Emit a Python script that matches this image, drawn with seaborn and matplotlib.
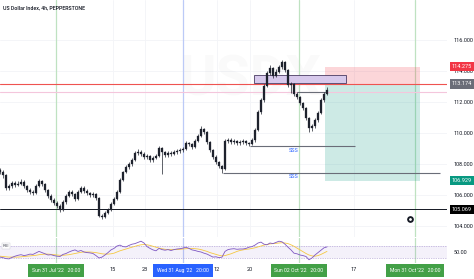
import matplotlib
matplotlib.use("Agg")
import matplotlib.pyplot as plt
import matplotlib.transforms as mtransforms
from matplotlib.patches import Rectangle
import numpy as np
import pandas as pd
import seaborn as sns

# ---------------- data ----------------
title = "US Dollar Index, 4h, PEPPERSTONE"

opens = [107.60, 107.48, 107.29, 106.45, 106.58, 106.77, 106.65, 106.71, 106.84, 106.58,
         106.32, 106.19, 106.13, 106.58, 106.90, 106.71, 106.32, 105.94, 105.68, 105.48,
         105.29, 105.03, 105.55, 105.94, 106.19, 106.06, 105.74, 106.19, 106.45, 106.26,
         106.13, 106.00, 106.06, 105.81, 104.65, 104.58, 104.84, 105.03, 105.42, 105.74,
         106.19, 106.97, 107.48, 107.81, 108.00, 108.26, 108.71, 108.77, 108.65, 108.45,
         108.52, 108.26, 108.39, 108.52, 109.03, 108.77, 108.58, 108.71, 108.65, 108.77,
         108.84, 108.90, 108.97, 109.35, 109.29, 109.10, 109.48, 109.81, 110.26, 110.06,
         109.42, 108.90, 108.45, 108.13, 107.87, 107.68, 109.48, 109.55, 109.42, 109.48,
         109.35, 109.42, 109.48, 109.35, 109.29, 109.55, 110.19, 111.35, 112.13, 113.03,
         113.87, 114.19, 113.68, 113.94, 114.26, 114.58, 114.06, 113.10, 113.16, 112.52,
         112.32, 111.94, 111.61, 110.97, 110.32, 110.45, 110.84, 111.29, 112.13, 112.52]
closes = [107.48, 107.29, 106.45, 106.58, 106.77, 106.65, 106.71, 106.84, 106.58, 106.32,
          106.19, 106.13, 106.58, 106.90, 106.71, 106.32, 105.94, 105.68, 105.48, 105.29,
          105.03, 105.55, 105.94, 106.19, 106.06, 105.74, 106.19, 106.45, 106.26, 106.13,
          106.00, 106.06, 105.81, 104.65, 104.58, 104.84, 105.03, 105.42, 105.74, 106.19,
          106.97, 107.48, 107.81, 108.00, 108.26, 108.71, 108.77, 108.65, 108.45, 108.52,
          108.26, 108.39, 108.52, 109.03, 108.77, 108.58, 108.71, 108.65, 108.77, 108.84,
          108.90, 108.97, 109.35, 109.29, 109.10, 109.48, 109.81, 110.26, 110.06, 109.42,
          108.90, 108.45, 108.13, 107.87, 107.68, 109.48, 109.55, 109.42, 109.48, 109.35,
          109.42, 109.48, 109.35, 109.29, 109.55, 110.19, 111.35, 112.13, 113.03, 113.87,
          114.19, 113.68, 113.94, 114.26, 114.58, 114.06, 113.10, 113.16, 112.52, 112.32,
          111.94, 111.61, 110.97, 110.32, 110.45, 110.84, 111.29, 112.13, 112.52, 112.77]
highs = [107.75, 107.62, 107.35, 106.70, 106.92, 106.88, 106.90, 107.00, 106.95, 106.66,
         106.42, 106.30, 106.70, 107.05, 106.98, 106.80, 106.40, 106.05, 105.78, 105.60,
         105.40, 105.66, 106.05, 106.32, 106.30, 106.15, 106.30, 106.60, 106.55, 106.36,
         106.22, 106.20, 106.14, 105.90, 104.80, 104.96, 105.15, 105.55, 105.85, 106.30,
         107.08, 107.58, 107.92, 108.15, 108.38, 108.85, 108.95, 108.88, 108.75, 108.66,
         108.60, 108.52, 108.65, 109.15, 109.10, 108.85, 108.85, 108.82, 108.90, 108.98,
         109.05, 109.10, 109.48, 109.45, 109.38, 109.62, 109.95, 110.45, 110.35, 110.12,
         109.50, 108.98, 108.55, 108.22, 107.95, 109.62, 109.70, 109.65, 109.60, 109.58,
         109.55, 109.62, 109.56, 109.45, 109.68, 110.32, 111.48, 112.28, 113.18, 114.02,
         114.40, 114.25, 114.10, 114.40, 114.72, 114.65, 114.12, 113.32, 113.25, 112.65,
         112.40, 112.02, 111.70, 111.05, 110.60, 110.98, 111.42, 112.25, 112.65, 112.95]
lows = [107.35, 107.10, 106.30, 106.35, 106.48, 106.52, 106.55, 106.62, 106.45, 106.20,
        106.05, 105.98, 106.05, 106.50, 106.58, 106.20, 105.82, 105.55, 105.35, 105.15,
        104.88, 104.95, 105.45, 105.85, 105.95, 105.62, 105.66, 106.10, 106.15, 106.02,
        105.88, 105.90, 105.70, 104.55, 104.45, 104.50, 104.75, 104.95, 105.35, 105.65,
        106.10, 106.88, 107.40, 107.70, 107.90, 108.18, 108.58, 108.52, 108.30, 108.35,
        108.14, 108.15, 108.30, 108.45, 107.35, 108.45, 108.48, 108.52, 108.55, 108.66,
        108.72, 108.80, 108.88, 109.15, 108.98, 109.00, 109.40, 109.72, 109.92, 109.30,
        108.78, 108.32, 108.00, 107.75, 107.45, 107.60, 109.38, 109.30, 109.32, 109.22,
        109.25, 109.30, 109.22, 109.16, 109.20, 109.45, 110.10, 111.25, 112.02, 112.95,
        113.75, 113.55, 113.60, 113.85, 114.15, 113.95, 112.95, 112.55, 112.40, 112.20,
        111.80, 111.48, 110.85, 110.05, 110.15, 110.35, 110.72, 111.20, 112.02, 112.45]

rsi = [33, 31, 28, 27, 32, 36, 39, 41, 38, 40,
       43, 42, 47, 52, 48, 44, 40, 41, 38, 36,
       35, 42, 45, 50, 54, 57, 52, 55, 50, 48,
       47, 45, 38, 30, 33, 40, 48, 57, 62, 70,
       73, 68, 67, 72, 76, 78, 82, 86, 80, 68,
       62, 57, 54, 62, 58, 56, 58, 55, 58, 60,
       61, 63, 66, 62, 57, 55, 52, 50, 46, 43,
       38, 33, 34, 31, 33, 52, 58, 60, 61, 59,
       60, 60, 62, 66, 68, 73, 80, 83, 76, 74,
       80, 78, 82, 86, 84, 76, 66, 57, 46, 44,
       40, 38, 35, 24, 30, 40, 48, 56, 64, 67]
rsi_ma = [36, 35, 34, 33, 33, 33, 33, 34, 35, 36,
          37, 38, 39, 41, 42, 43, 43, 42, 41, 40,
          39, 39, 40, 41, 43, 45, 47, 49, 50, 50,
          50, 49, 48, 46, 44, 43, 43, 44, 46, 50,
          54, 57, 60, 63, 66, 69, 72, 74, 75, 74,
          72, 69, 66, 63, 61, 59, 58, 58, 58, 58,
          59, 60, 61, 62, 62, 61, 60, 58, 55, 52,
          48, 45, 42, 39, 37, 38, 41, 44, 48, 52,
          55, 57, 59, 60, 62, 64, 67, 70, 73, 75,
          77, 78, 79, 80, 81, 80, 78, 74, 69, 63,
          57, 51, 45, 40, 37, 36, 38, 42, 47, 52]

price_ticks = [104, 106, 108, 110, 112, 114, 116]
time_tick_labels = ["18", "15", "23", "12", "20", "17"]
time_tick_pos = [-0.4, 37.7, 48.3, 72.3, 83.3, 118.0]
marker_labels = ["Sun 31 Jul '22   20:00", "Wed 31 Aug '22   20:00",
                 "Sun 02 Oct '22   20:00", "Mon 31 Oct '22   20:00"]
marker_pos = [18.67, 61.0, 99.67, 138.33]

stop_level = 114.275
entry_level = 113.174
target_level = 106.929
support_level = 105.069
pink_level = 112.62
sss_upper = 109.16
sss_lower = 107.45
zone_box = (113.25, 113.72)

# ---------------- styling ----------------
sns.set_theme(style="white")
plt.rcParams["font.family"] = ["Roboto", "DejaVu Sans"]

W, H = 474, 279
fig = plt.figure(figsize=(W / 100, H / 100), dpi=100)
fig.patch.set_facecolor("white")
right = 447 / W
ax = fig.add_axes([0, 1 - 237 / H, right, 237 / H])
ax_r = fig.add_axes([0, 1 - 263 / H, right, 25 / H], sharex=ax)

idx = np.arange(len(closes))
df = pd.DataFrame({"i": idx, "open": opens, "high": highs, "low": lows,
                   "close": closes, "rsi": rsi, "rsi_ma": rsi_ma})

XMAX = 149
ax.set_xlim(0, XMAX)
ax.set_ylim(103.29, 118.58)
ax_r.set_ylim(13.3, 96.7)

for a in (ax, ax_r):
    for s in a.spines.values():
        s.set_visible(False)
    a.set_facecolor("white")

grid_c = "#f3f4f7"
for t in price_ticks:
    ax.axhline(t, color=grid_c, lw=0.6, zorder=0)
for t in time_tick_pos + marker_pos:
    ax.axvline(t, color=grid_c, lw=0.6, zorder=0)

# watermark
ax.text(0.56, 0.66, "USDX", transform=ax.transAxes, fontsize=40, fontweight="bold",
        color="#000000", alpha=0.018, ha="center", va="center", zorder=0)

# vertical marker lines
vcols = ["#bfe2c1", "#bccaf7", "#bfe2c1", "#bfe2c1"]
for p, c in zip(marker_pos, vcols):
    ax.axvline(p, color=c, lw=0.9, zorder=1)
    ax_r.axvline(p, color=c, lw=0.9, zorder=1)

# position tool zones
ax.add_patch(Rectangle((108.3, entry_level), 140 - 108.3, stop_level - entry_level,
                       facecolor="#f23645", alpha=0.2, edgecolor="none", zorder=1))
ax.add_patch(Rectangle((108.3, target_level), 140 - 108.3, entry_level - target_level,
                       facecolor="#089981", alpha=0.2, edgecolor="none", zorder=1))

# horizontal levels
ax.axhline(entry_level, color="#ef5350", lw=0.8, zorder=2)
ax.axhline(pink_level, color="#f4c6dc", lw=0.8, zorder=2)
ax.hlines(pink_level, 99, 109, color="#6a6d78", lw=0.8, zorder=3)
ax.axhline(support_level, color="#131722", lw=0.7, zorder=2)
ax.hlines(sss_upper, 83.3, 118.3, color="#6a6d78", lw=0.8, zorder=2)
ax.hlines(sss_lower, 74.3, 146.7, color="#6a6d78", lw=0.8, zorder=2)
ax.text(98, sss_upper - 0.12, "SSS", color="#2962ff", fontsize=4, ha="center", va="top")
ax.text(98, sss_lower - 0.12, "SSS", color="#2962ff", fontsize=4, ha="center", va="top")

# purple zone
ax.add_patch(Rectangle((84.7, zone_box[0]), 115.3 - 84.7, zone_box[1] - zone_box[0],
                       facecolor="#d7c9ec", edgecolor="#4a3b63", lw=0.6, zorder=3))

# candles
ccol = "#1e222d"
ax.vlines(df["i"], df["low"], df["high"], color=ccol, lw=0.5, zorder=4)
body_bottom = np.minimum(df["open"], df["close"])
body_h = np.maximum(np.abs(df["close"] - df["open"]), 0.03)
ax.bar(df["i"], body_h, bottom=body_bottom, width=0.5, color=ccol,
       edgecolor=ccol, linewidth=0.2, zorder=5)

# eye icon
ax.plot([0.917], [0.078], "o", transform=ax.transAxes, ms=3.8, color="#131722", zorder=6)
ax.plot([0.917], [0.078], "o", transform=ax.transAxes, ms=1.0, color="white", zorder=7)

# price scale
ax.yaxis.tick_right()
ax.set_yticks(price_ticks)
ax.set_yticklabels([f"{v:.3f}" for v in price_ticks])
ax.tick_params(axis="y", length=0, pad=5, labelsize=4, labelcolor="#131722")
ax.tick_params(axis="x", length=0, labelbottom=False)

blend = mtransforms.blended_transform_factory(ax.transAxes, ax.transData)
for val, col in [(stop_level, "#f23645"), (entry_level, "#6a6d78"),
                 (target_level, "#089981"), (support_level, "#000000")]:
    ax.text(1.0 + 5 / 447, val, f"{val:.3f}", transform=blend, fontsize=4,
            color="white", ha="left", va="center", zorder=10, clip_on=False,
            bbox=dict(boxstyle="square,pad=0.4", fc=col, ec="none"))

ax.text(3 / 447, 1 - 8 / 237, title, transform=ax.transAxes, fontsize=3.8,
        fontweight="medium", color="#131722", ha="left", va="center")

# RSI panel
ax_r.axhspan(30, 70, color="#7e57c2", alpha=0.08, lw=0)
ax_r.axhline(70, color="#9c88c9", lw=0.5, ls=(0, (1, 1.5)))
ax_r.axhline(30, color="#9c88c9", lw=0.5, ls=(0, (1, 1.5)))
sns.lineplot(data=df, x="i", y="rsi_ma", ax=ax_r, color="#f5c842", lw=0.6, zorder=3)
sns.lineplot(data=df, x="i", y="rsi", ax=ax_r, color="#7e57c2", lw=0.6, zorder=4)
ax_r.set_xlabel("")
ax_r.set_ylabel("")
ax_r.yaxis.tick_right()
ax_r.set_yticks([50])
ax_r.set_yticklabels(["50.00"])
ax_r.tick_params(axis="y", length=0, pad=5, labelsize=4, labelcolor="#131722")
ax_r.set_xticks(time_tick_pos)
ax_r.set_xticklabels(time_tick_labels)
ax_r.tick_params(axis="x", length=0, pad=3, labelsize=4, labelcolor="#131722")
ax_r.text(3 / 447, 70, "RSI", transform=mtransforms.blended_transform_factory(ax_r.transAxes, ax_r.transData),
          fontsize=3.2, color="#50535e", ha="left", va="center",
          bbox=dict(boxstyle="square,pad=0.2", fc="white", ec="#c8cad0", lw=0.3))
ax_r.set_xlim(0, XMAX)

# time markers at the bottom
btrans = mtransforms.blended_transform_factory(ax_r.transData, fig.transFigure)
mcols = ["#43a047", "#2962ff", "#43a047", "#43a047"]
for p, lab, c in zip(marker_pos, marker_labels, mcols):
    ax_r.text(p, 1 - 270.5 / H, lab, transform=btrans, fontsize=3.7, color="white",
              ha="center", va="center", zorder=10, clip_on=False,
              bbox=dict(boxstyle="square,pad=0.75", fc=c, ec="none"))

fig.savefig("out.png", dpi=100, facecolor="white")
